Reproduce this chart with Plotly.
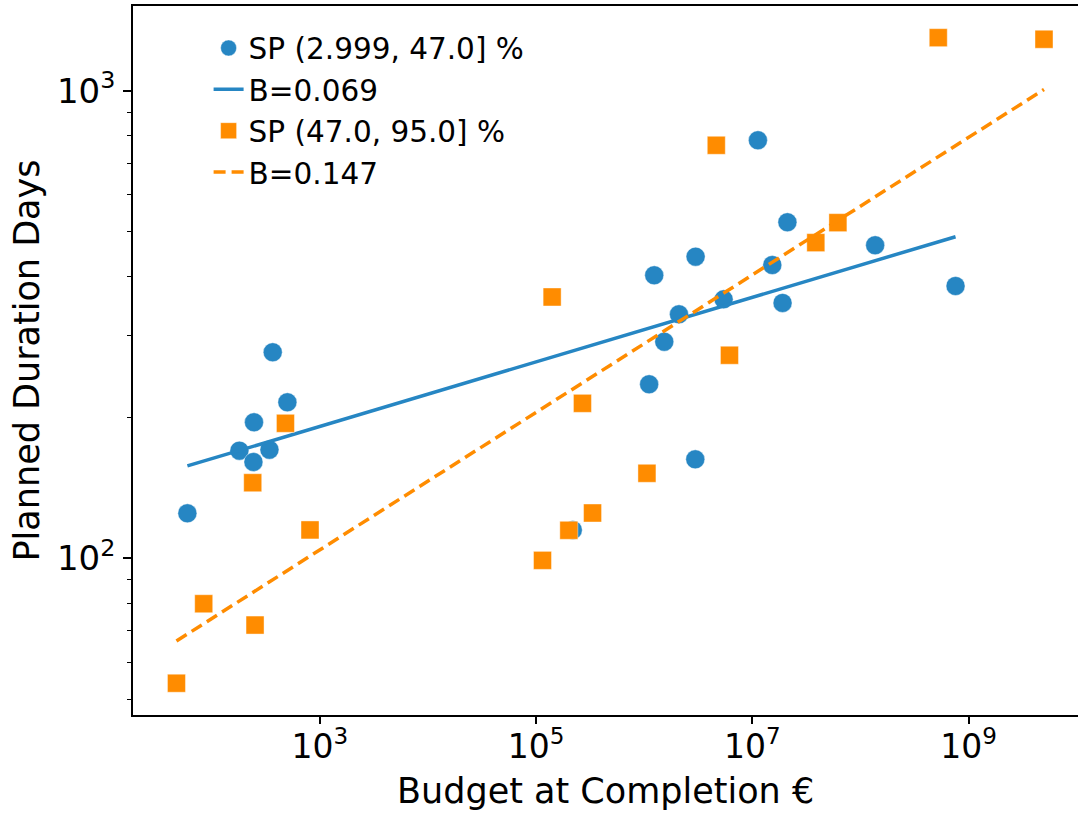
import numpy as np
import plotly.graph_objects as go

# ---- data ----
low_sp_label = "SP (2.999, 47.0] %"
high_sp_label = "SP (47.0, 95.0] %"

low_bac = [59.7, 180.7, 246.6, 243.6, 342.7, 367.4, 502, 2.188e5, 1.112e6, 1.239e6,
           1.535e6, 2.099e6, 2.99e6, 2.97e6, 5.43e6, 1.127e7, 1.531e7, 1.905e7,
           2.112e7, 1.368e8, 7.58e8]
low_days = [124.8, 169.9, 195.4, 160.7, 170.7, 275.8, 215.6, 115, 235.6, 402.9,
            290.5, 332.5, 441.6, 162.8, 357.9, 783.2, 423.8, 351.6, 523.1, 467.1, 382.2]

high_bac = [47.3, 84.5, 239.9, 252.1, 481.6, 812.9, 1.148e5, 1.409e5, 2.011e5,
            2.687e5, 3.332e5, 1.061e6, 4.645e6, 6.15e6, 3.867e7, 6.19e7, 5.245e8, 4.984e9]
high_days = [54.07, 79.97, 145.1, 72.0, 194.4, 115, 99.0, 362.1, 114.8, 214.5,
             125, 152, 764.2, 271.8, 473.2, 522.1, 1298, 1288]

# log-log fit parameters: log10(days) = A + B * log10(bac)
low_B, low_A = 0.069, 2.075
high_B, high_A = 0.147, 1.577

x_title = "Budget at Completion €"
y_title = "Planned Duration Days"
x_ticks = [1e3, 1e5, 1e7, 1e9]
x_ticktext = ["10<sup>3</sup>", "10<sup>5</sup>", "10<sup>7</sup>", "10<sup>9</sup>"]
y_ticks = [1e2, 1e3]
y_ticktext = ["10<sup>2</sup>", "10<sup>3</sup>"]
y_minor = [50, 60, 70, 80, 90, 200, 300, 400, 500, 600, 700, 800, 900]

BLUE = "#2686c3"
ORANGE = "#ff8c00"
FONT = "DejaVu Sans"


def fit_line(xs, A, B):
    xr = np.array([min(xs), max(xs)])
    return xr, 10 ** (A + B * np.log10(xr))


fig = go.Figure()
fig.add_trace(go.Scatter(
    x=low_bac, y=low_days, mode="markers", name=low_sp_label,
    marker=dict(symbol="circle", size=19, color=BLUE,
                line=dict(width=0.6, color="rgba(255,255,255,0.7)"))))
lx, ly = fit_line(low_bac, low_A, low_B)
fig.add_trace(go.Scatter(x=lx, y=ly, mode="lines", name=f"B={low_B:.3f}",
                         line=dict(color=BLUE, width=3.5)))
fig.add_trace(go.Scatter(
    x=high_bac, y=high_days, mode="markers", name=high_sp_label,
    marker=dict(symbol="square", size=18, color=ORANGE,
                line=dict(width=0.6, color="rgba(255,255,255,0.7)"))))
hx, hy = fit_line(high_bac, high_A, high_B)
fig.add_trace(go.Scatter(x=hx, y=hy, mode="lines", name=f"B={high_B:.3f}",
                         line=dict(color=ORANGE, width=3.5, dash="12px,6px")))

fig.update_layout(
    width=1078, height=814,
    margin=dict(l=133, r=0, t=6, b=99, autoexpand=False),
    paper_bgcolor="white", plot_bgcolor="white",
    font=dict(family=FONT, color="black"),
    showlegend=True,
    legend=dict(x=0.08, y=0.977, xanchor="left", yanchor="top",
                bgcolor="rgba(255,255,255,0)", font=dict(size=29.5, family=FONT),
                tracegroupgap=0, itemwidth=30),
    annotations=[dict(text=x_title, xref="paper", yref="paper", x=0.5, y=-0.138,
                      xanchor="center", yanchor="bottom", showarrow=False,
                      font=dict(size=35, family=FONT, color="black"))],
)
fig.update_xaxes(
    type="log", range=[1.273, 10.012],
    tickmode="array", tickvals=x_ticks, ticktext=x_ticktext,
    ticks="outside", ticklen=7, tickwidth=1.6, tickcolor="black",
    tickfont=dict(size=33, family=FONT), ticklabelstandoff=-6,
    showline=True, linewidth=1.8, linecolor="black", mirror=True,
    showgrid=False, zeroline=False,
)
fig.update_yaxes(
    type="log", range=[1.665, 3.181],
    tickmode="array", tickvals=y_ticks, ticktext=y_ticktext,
    ticks="outside", ticklen=8, tickwidth=1.6, tickcolor="black",
    tickfont=dict(size=34, family=FONT), ticklabelstandoff=1,
    minor=dict(tickvals=y_minor, ticks="outside", ticklen=4.5, tickwidth=1.2, tickcolor="black"),
    showline=True, linewidth=1.8, linecolor="black", mirror=False,
    showgrid=False, zeroline=False,
    title=dict(text=y_title, font=dict(size=35, family=FONT), standoff=7),
)

fig.write_html("out.html", config={"displayModeBar": False},
               post_script="document.body.style.margin='0px';")
